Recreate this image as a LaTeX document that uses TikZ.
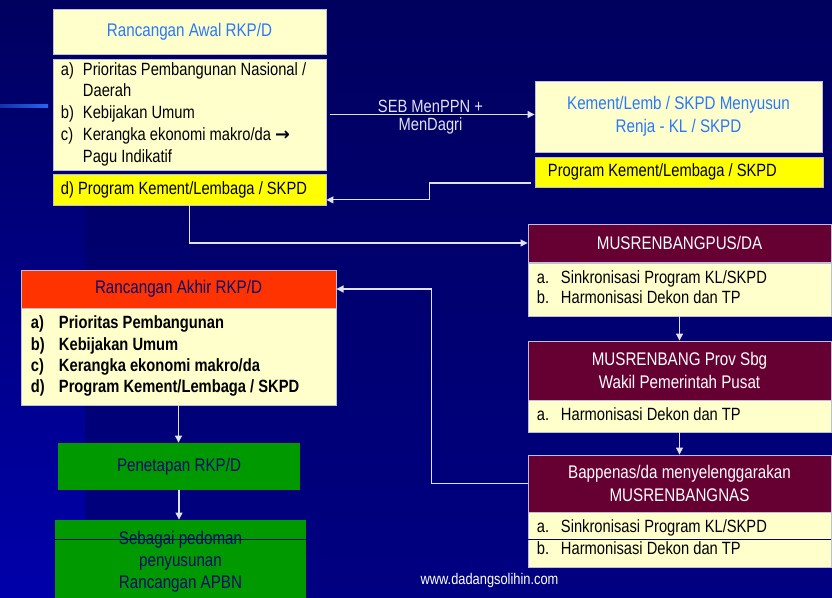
\documentclass[tikz,border=0pt]{standalone}
\usepackage{fontspec}
\setmainfont{Liberation Sans}[FakeStretch=0.83]
\newfontfamily\symfont{DejaVu Sans}
\usetikzlibrary{positioning,arrows.meta}
\definecolor{slidenavy}{RGB}{0,0,95}
\definecolor{slidenavylow}{RGB}{0,0,130}
\definecolor{stripblue}{RGB}{0,0,170}
\definecolor{accentblue}{RGB}{40,100,240}
\definecolor{creamfill}{RGB}{255,255,204}
\definecolor{markyellow}{RGB}{255,255,0}
\definecolor{maroonfill}{RGB}{102,0,51}
\definecolor{flamered}{RGB}{255,51,0}
\definecolor{leafgreen}{RGB}{0,153,0}
\definecolor{titleblue}{RGB}{40,120,255}
\definecolor{inknavy}{RGB}{10,10,110}
\definecolor{edgegray}{RGB}{190,190,215}
\definecolor{wirewhite}{RGB}{225,225,240}

\tikzset{
  box/.style={draw=edgegray,line width=0.6pt,inner xsep=0pt,inner ysep=0pt,
    font=\fontsize{12.6}{15.6}\selectfont},
  headbox/.style={box,fill=creamfill,text=titleblue,align=center,
    font=\fontsize{13}{16.3}\selectfont},
  listbox/.style={box,fill=creamfill,text=black,align=left,
    execute at begin node={\spaceskip=0pt\xspaceskip=0pt}},
  markbox/.style={box,fill=markyellow,text=black,align=left,
    execute at begin node={\spaceskip=0pt\xspaceskip=0pt}},
  musbox/.style={box,fill=maroonfill,text=white,align=center,
    font=\fontsize{13}{16.3}\selectfont},
  redbox/.style={box,fill=flamered,text=inknavy,align=center,
    font=\fontsize{13}{16.3}\selectfont},
  greenbox/.style={box,draw=none,fill=leafgreen,text=inknavy,align=center,
    font=\fontsize{13}{15.6}\selectfont},
  wire/.style={draw=wirewhite,line width=0.8pt},
  arr/.style={wire,-{Triangle[length=5pt,width=5pt]}},
  rule/.style={draw=inknavy!70!black,line width=0.8pt}
}

\begin{document}
\begin{tikzpicture}[x=0.025cm,y=-0.025cm]
  \useasboundingbox (0,0) rectangle (832,597);
  \clip (0,0) rectangle (832,597);
  % slide background
  \shade[top color=slidenavy,bottom color=slidenavylow] (0,0) rectangle (832,597);
  \shade[top color=slidenavy,bottom color=stripblue] (0,0) rectangle (85,597);
  \shade[left color=accentblue!50!slidenavy,right color=accentblue]
    (0,104.5) rectangle (48,107.5);

  % rancangan awal
  \node[headbox,minimum width=6.825cm,minimum height=1.125cm]
    (awal) at (189.5,31.5) {Rancangan Awal RKP/D};
  \node[listbox,text width=6.425cm,inner xsep=0.2cm,minimum height=2.775cm]
    (awalitems) at (189.5,114.5)
    {\begin{tabular}{@{}p{0.55cm}@{}l@{}}
      a) & Prioritas Pembangunan Nasional /\\
         & Daerah\\
      b) & Kebijakan Umum\\
      c) & Kerangka ekonomi makro/da {\symfont\bfseries →}\\
         & Pagu Indikatif
     \end{tabular}};
  \node[markbox,text width=6.425cm,inner xsep=0.2cm,minimum height=0.775cm]
    (awalprog) at (189.5,189.5) {d) Program Kement/Lembaga / SKPD};

  % renja
  \node[headbox,minimum width=7.175cm,minimum height=1.775cm]
    (renja) at (678.5,116.5) {Kement/Lemb / SKPD Menyusun\\Renja - KL / SKPD};
  \node[markbox,text width=6.55cm,inner xsep=0.325cm,minimum height=0.75cm]
    (renjaprog) at (679,172) {Program Kement/Lembaga / SKPD};

  % musrenbang column
  \node[musbox,minimum width=7.575cm,minimum height=0.95cm]
    (pus) at (679.5,243) {MUSRENBANGPUS/DA};
  \node[listbox,text width=7.125cm,inner xsep=0.225cm,minimum height=1.325cm,
        font=\fontsize{12.6}{14.6}\selectfont]
    (pusitems) at (679.5,289.5)
    {\begin{tabular}{@{}p{0.6cm}@{}l@{}}
      a. & Sinkronisasi Program KL/SKPD\\
      b. & Harmonisasi Dekon dan TP
     \end{tabular}};
  \node[musbox,minimum width=7.575cm,minimum height=1.475cm]
    (prov) at (679.5,370.5) {MUSRENBANG Prov Sbg\\Wakil Pemerintah Pusat};
  \node[listbox,text width=7.125cm,inner xsep=0.225cm,minimum height=0.8cm]
    (provitems) at (679.5,416)
    {\begin{tabular}{@{}p{0.6cm}@{}l@{}}
      a. & Harmonisasi Dekon dan TP
     \end{tabular}};
  \node[musbox,minimum width=7.575cm,minimum height=1.425cm]
    (nas) at (679.5,483.5) {Bappenas/da menyelenggarakan\\MUSRENBANGNAS};
  \node[listbox,text width=7.125cm,inner xsep=0.225cm,minimum height=1.375cm]
    (nasitems) at (679.5,539.5)
    {\begin{tabular}{@{}p{0.6cm}@{}l@{}}
      a. & Sinkronisasi Program KL/SKPD\\
      b. & Harmonisasi Dekon dan TP
     \end{tabular}};
  \draw[rule] (nasitems.west) -- (nasitems.east);

  % rancangan akhir
  \node[redbox,minimum width=7.875cm,minimum height=0.95cm]
    (akhir) at (178.5,289) {Rancangan Akhir RKP/D};
  \node[listbox,text width=7.375cm,inner xsep=0.25cm,minimum height=2.425cm,
        font=\fontsize{12.6}{15.1}\selectfont\bfseries]
    (akhiritems) at (178.5,356.5)
    {\begin{tabular}{@{}p{0.7cm}@{}l@{}}
      a) & Prioritas Pembangunan\\
      b) & Kebijakan Umum\\
      c) & Kerangka ekonomi makro/da\\
      d) & Program Kement/Lembaga / SKPD
     \end{tabular}};
  \node[greenbox,minimum width=6.05cm,minimum height=1.175cm]
    (penetapan) at (179,466.5) {Penetapan RKP/D};
  \node[greenbox,minimum width=6.275cm,minimum height=2.1cm]
    (pedoman) at (180.5,562) {Sebagai pedoman\\penyusunan\\Rancangan APBN};
  \draw[rule] (pedoman.west |- nasitems.west) -- (pedoman.east |- nasitems.west);

  \node[text=white,font=\fontsize{11}{13}\selectfont]
    (web) at (489.5,580) {www.dadangsolihin.com};

  % connectors
  \draw[arr,shorten <=0.1cm] (awalitems.east) -- (awalitems.east -| renja.west)
    node[midway,above,inner sep=1pt,text=wirewhite,
         font=\fontsize{12.6}{14}\selectfont] {SEB MenPPN +}
    node[midway,below,inner sep=2pt,text=wirewhite,
         font=\fontsize{12.6}{14}\selectfont] {MenDagri};
  \draw[arr,shorten <=0.1cm] ([yshift=-0.275cm]renjaprog.west) -- ++(-105,0)
    |- ([yshift=-0.26cm]awalprog.east);
  \draw[arr] (awalprog.south) |- (pus.west);
  \draw[arr] (pusitems.south) -- (prov.north);
  \draw[arr] (provitems.south) -- (nas.north);
  \draw[arr] (nas.west) -- ++(-96,0) |- (akhir.east);
  \draw[arr] (akhiritems.south) -- (akhiritems.south |- penetapan.north);
  \draw[arr] (penetapan.south) -- (penetapan.south |- pedoman.north);
\end{tikzpicture}
\end{document}
